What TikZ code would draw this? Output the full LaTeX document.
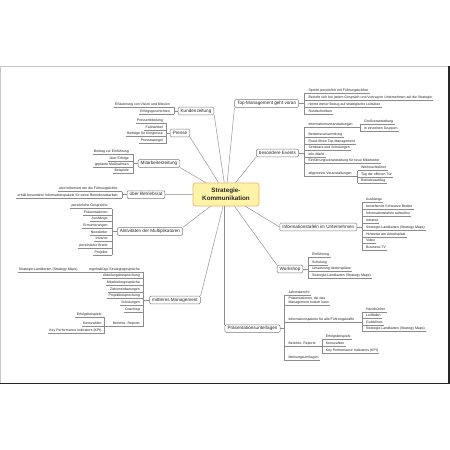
\documentclass[tikz,border=0pt]{standalone}
\usepackage{fontspec}
\setmainfont{Liberation Sans}
\definecolor{txt}{HTML}{262626}
\definecolor{boxc}{HTML}{7A7A7A}
\definecolor{lnc}{HTML}{8C8C8C}
\definecolor{ulc}{HTML}{8C8C8C}
\definecolor{cyel}{HTML}{FFF3A8}
\definecolor{corange}{HTML}{F0B26E}
\begin{document}
\begin{tikzpicture}[x=1pt,y=-1pt,
  sub/.style={font=\fontsize{3.5}{4.3}\selectfont, inner xsep=1.2pt, inner ysep=0.6pt, text=txt},
  s/.style={sub, text height=2.6pt, text depth=0.8pt},
  L/.style={s, anchor=east}, R/.style={s, anchor=west},
  main/.style={draw=boxc, line width=0.5pt, rounded corners=1.2pt, fill=white, text=txt, font=\fontsize{4.6}{5.5}\selectfont, inner xsep=2.6pt, inner ysep=1.7pt, text height=3.3pt, text depth=1pt},
  ln/.style={draw=lnc, line width=0.45pt},
  ul/.style={draw=ulc, line width=0.4pt}]
\useasboundingbox (0,0) rectangle (450,450);
\fill[white] (0,0) rectangle (450,450);
% page frame
\draw[black!22, line width=1pt] (0.5,383) -- (0.5,66.5) -- (449,66.5);
\draw[black!85, line width=1.3pt] (449,66) -- (449,383.2) -- (0,383.2);

% central node
\node[draw=corange, line width=0.8pt, fill=cyel, rounded corners=2.5pt, minimum width=66pt, minimum height=23pt, align=center, font=\bfseries\fontsize{6.3}{8}\selectfont, text=txt] (c) at (226,194.5) {Strategie-\\Kommunikation};

% main branches
\node[main] (kund) at (196,111) {Kundenzeitung};
\node[main] (presse) at (180,133) {Presse};
\node[main] (mitz) at (159,163.5) {Mitarbeiterzeitung};
\node[main] (br) at (146,194.7) {über Betriebsrat};
\node[main] (akt) at (150,231.5) {Aktivitäten der Multiplikatoren};
\node[main] (mm) at (175,300) {mittleres Management};
\node[main] (pu) at (252.5,328.7) {Präsentationsunterlagen};
\node[main] (ws) at (290,269) {Workshop};
\node[main] (tm) at (266.7,103.5) {Top-Management geht voran};
\node[main] (be) at (277.5,153) {besondere Events};
\node[main] (it) at (318.3,227) {Informationstafeln im Unternehmen};

% connectors from centre
\draw[ln] (c) -- (kund.south east);
\draw[ln] (c) -- (presse.south east);
\draw[ln] (c) -- (mitz.south east);
\draw[ln] (c) -- (br.east);
\draw[ln] (c) -- (akt.north east);
\draw[ln] (c) -- (mm.north east);
\draw[ln] (c.south -| pu.north west) -- (pu.north west);
\draw[ln] (c) -- (ws.north west);
\draw[ln] (c) -- (tm.south west);
\draw[ln] (c) -- (be.south west);
\draw[ln] (c) -- (it.west);

% ---------- Kundenzeitung
\coordinate (kS) at (174,0);
\foreach \n/\y/\t in {k1/104.3/{Erläuterung von Vision und Mission}, k2/111.3/{Erfolgsgeschichten}}
  {\node[L] (\n) at (171.2,\y) {\t}; \draw[ul] (\n.south west) -- (\n.south -| kS);}
\draw[ul] (k1.south -| kS) -- (k2.south -| kS);
\draw[ln] (kund.west) -- (kund.west -| kS);

% ---------- Presse
\coordinate (pS) at (166.5,0);
\foreach \n/\y/\t in {p1/120.7/{Pressemitteilung}, p2/127.3/{Fachartikel}, p3/133.7/{Beiträge für Kongresse}, p4/140.3/{Pressespiegel}}
  {\node[L] (\n) at (164.2,\y) {\t}; \draw[ul] (\n.south west) -- (\n.south -| pS);}
\draw[ul] (p1.south -| pS) -- (p4.south -| pS);
\draw[ln] (presse.west) -- (presse.west -| pS);

% ---------- Mitarbeiterzeitung
\coordinate (mzS) at (133,0);
\foreach \n/\y/\t in {z1/151.7/{Beitrag zur Einführung}, z2/158.3/{über Erfolge}, z3/164.7/{geplante Maßnahmen}, z4/171/{Beispiele}}
  {\node[L] (\n) at (130.2,\y) {\t}; \draw[ul] (\n.south west) -- (\n.south -| mzS);}
\draw[ul] (z1.south -| mzS) -- (z4.south -| mzS);
\draw[ln] (mitz.west) -- (mitz.west -| mzS);

% ---------- über Betriebsrat
\coordinate (bS) at (122,0);
\foreach \n/\y/\t in {b1/189/{wird informiert wie die Führungskräfte}, b2/195.7/{erhält besondere Informationspakete für seine Betriebsratsarbeit}}
  {\node[L] (\n) at (118.9,\y) {\t}; \draw[ul] (\n.south west) -- (\n.south -| bS);}
\draw[ul] (b1.south -| bS) -- (b2.south -| bS);
\draw[ln] (br.west) -- (br.west -| bS);

% ---------- Aktivitäten der Multiplikatoren
\coordinate (aS) at (112,0);
\foreach \n/\y/\t in {a1/206/{persönliche Gespräche}, a2/212.7/{Präsentationen}, a3/219/{Aushänge}, a4/225.7/{Ermunterungen}, a5/232.3/{Newsletter}, a6/239/{Intranet}, a7/245.3/{persönliche Briefe}, a8/252.3/{Projekte}}
  {\node[L] (\n) at (108.9,\y) {\t}; \draw[ul] (\n.south west) -- (\n.south -| aS);}
\draw[ul] (a1.south -| aS) -- (a8.south -| aS);
\draw[ln] (akt.west) -- (akt.west -| aS);

% ---------- mittleres Management
\coordinate (mS) at (143.5,0);
\foreach \n/\y/\t in {m1/270/{regelmäßige Strategiegespräche}, m2/276/{Abteilungsbesprechung}, m3/282.7/{Mitarbeitergespräche}, m4/289.3/{Zielvereinbarungen}, m5/295.7/{Projektbesprechung}, m6/302.7/{Schulungen}, m7/309.3/{Coaching}, m8/323.3/{Berichte, Reports}}
  {\node[L] (\n) at (141.2,\y) {\t}; \draw[ul] (\n.south west) -- (\n.south -| mS);}
\draw[ul] (m1.south -| mS) -- (m8.south -| mS);
\draw[ln] (mm.west) -- (mm.west -| mS);
\node[L] (slk) at (78.9,270) {Strategie-Landkarten (Strategy Maps)};
\draw[ul] (slk.south west) -- (m1.south west);
\coordinate (rS) at (104.5,0);
\foreach \n/\y/\t in {r1/315/{Erfolgsbeispiele}, r2/323.3/{Kennzahlen}, r3/330.7/{Key Performance Indicators (KPI)}}
  {\node[L] (\n) at (102.9,\y) {\t}; \draw[ul] (\n.south west) -- (\n.south -| rS);}
\draw[ul] (r1.south -| rS) -- (r3.south -| rS);
\draw[ul] (m8.south west) -- (m8.south -| rS);

% ---------- Top-Management geht voran
\coordinate (tS) at (304,0);
\foreach \n/\y/\t in {t1/91/{Spricht persönlich mit Führungskräften}, t2/97.7/{Bezieht sich bei jedem Gespräch und Vortrag im Unternehmen auf die Strategie}, t3/104.3/{nimmt immer Bezug auf strategische Leitsätze}, t4/111.3/{Rundschreiben}}
  {\node[R] (\n) at (307.1,\y) {\t}; \draw[ul] (\n.south east) -- (\n.south -| tS);}
\draw[ul] (t1.south -| tS) -- (t4.south -| tS);
\draw[ln] (tm.east) -- (tm.east -| tS);

% ---------- besondere Events
\coordinate (eS) at (304,0);
\foreach \n/\y/\t in {e1/124.3/{Informationsveranstaltungen}, e2/134.7/{Betriebsversammlung}, e3/141.3/{Road-Show Top-Management}, e4/148/{Seminare und Schulungen}, e5/154.7/{Info-Markt}, e6/160.7/{Einführungsveranstaltung für neue Mitarbeiter}, e7/174/{allgemeine Veranstaltungen}}
  {\node[R] (\n) at (307.1,\y) {\t}; \draw[ul] (\n.south east) -- (\n.south -| eS);}
\draw[ul] (e1.south -| eS) -- (e7.south -| eS);
\draw[ln] (be.east) -- (be.east -| eS);
\coordinate (ivS) at (360,0);
\foreach \n/\y/\t in {v1/121.7/{Großveranstaltung}, v2/128.3/{in einzelnen Gruppen}}
  {\node[R] (\n) at (362.8,\y) {\t}; \draw[ul] (\n.south east) -- (\n.south -| ivS);}
\draw[ul] (v1.south -| ivS) -- (v2.south -| ivS);
\draw[ul] (e1.south east) -- (e1.south -| ivS);
\coordinate (avS) at (357.5,0);
\foreach \n/\y/\t in {g1/168/{Weihnachtsfeier}, g2/174.3/{Tag der offenen Tür}, g3/180.7/{Betriebsausflug}}
  {\node[R] (\n) at (359.8,\y) {\t}; \draw[ul] (\n.south east) -- (\n.south -| avS);}
\draw[ul] (g1.south -| avS) -- (g3.south -| avS);
\draw[ul] (e7.south east) -- (e7.south -| avS);

% ---------- Informationstafeln im Unternehmen
\coordinate (iS) at (362,0);
\foreach \n/\y/\t in {i1/200/{Aushänge}, i2/207/{bestehende Schwarze Bretter}, i3/213.7/{Informationstafeln aufstellen}, i4/220.3/{Intranet}, i5/227.3/{Strategie-Landkarten (Strategy Maps)}, i6/234.3/{Hinweise am Arbeitsplatz}, i7/241/{Video}, i8/247.7/{Business-TV}}
  {\node[R] (\n) at (364.8,\y) {\t}; \draw[ul] (\n.south east) -- (\n.south -| iS);}
\draw[ul] (i1.south -| iS) -- (i8.south -| iS);
\draw[ln] (it.east) -- (it.east -| iS);

% ---------- Workshop
\coordinate (wS) at (308,0);
\foreach \n/\y/\t in {w1/255/{Einführung}, w2/262.3/{Schulung}, w3/269/{Umsetzung Aktionspläne}, w4/275.7/{Strategie-Landkarten (Strategy Maps)}}
  {\node[R] (\n) at (310.8,\y) {\t}; \draw[ul] (\n.south east) -- (\n.south -| wS);}
\draw[ul] (w1.south -| wS) -- (w4.south -| wS);
\draw[ln] (ws.east) -- (ws.east -| wS);

% ---------- Präsentationsunterlagen
\coordinate (uS) at (284.3,0);
\foreach \n/\y/\t in {u1/292.3/{Jahresbericht}, u3/319.3/{Informationspakete für alle Führungskräfte}, u4/343.3/{Berichte, Reports}, u5/357.7/{Meinungsumfragen}}
  {\node[R] (\n) at (287.1,\y) {\t}; \draw[ul] (\n.south east) -- (\n.south -| uS);}
\node[sub, anchor=west, align=left] (u2) at (287.1,300.7) {Präsentationen, die das\\Management nutzen kann};
\draw[ul] (u2.south east) -- (u2.south -| uS);
\draw[ul] (u1.south -| uS) -- (u5.south -| uS);
\draw[ln] (pu.east) -- (pu.east -| uS);
\coordinate (ipS) at (362,0);
\foreach \n/\y/\t in {h1/309.3/{Handbücher}, h2/315.7/{Leitfäden}, h3/322.3/{Guidelines}, h4/329/{Strategie-Landkarten (Strategy Maps)}}
  {\node[R] (\n) at (364.8,\y) {\t}; \draw[ul] (\n.south east) -- (\n.south -| ipS);}
\draw[ul] (h1.south -| ipS) -- (h4.south -| ipS);
\draw[ul] (u3.south east) -- (u3.south -| ipS);
\coordinate (qS) at (322.3,0);
\foreach \n/\y/\t in {q1/336.3/{Erfolgsbeispiele}, q2/343.3/{Kennzahlen}, q3/350.7/{Key Performance Indicators (KPI)}}
  {\node[R] (\n) at (324.5,\y) {\t}; \draw[ul] (\n.south east) -- (\n.south -| qS);}
\draw[ul] (q1.south -| qS) -- (q3.south -| qS);
\draw[ul] (u4.south east) -- (u4.south -| qS);
\end{tikzpicture}
\end{document}
